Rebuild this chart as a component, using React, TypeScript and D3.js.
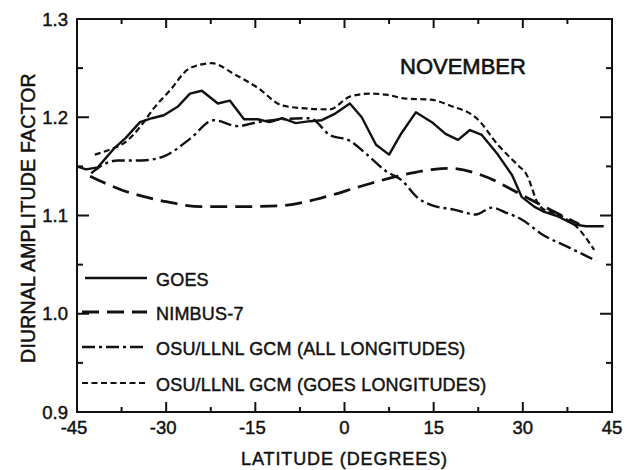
import React from "react";
import * as d3 from "d3";

const X_TICKS = [-45, -30, -15, 0, 15, 30, 45];
const X_MINOR = [-37.5, -22.5, -7.5, 7.5, 22.5, 37.5];
const Y_TICKS = [0.9, 1.0, 1.1, 1.2, 1.3];
const Y_MINOR = [0.95, 1.05, 1.15, 1.25];

const goesLat = [-45, -43.5, -41.5, -38.8, -36.8, -34.4, -32.4, -30.4, -28, -26, -24, -21.3, -19.3, -16.9, -14.6, -12.6, -10.5, -8.2, -5.8, -3.8, -1.5, 0.9, 2.9, 5.3, 7.5, 9.6, 12, 14.7, 17, 19.1, 21.1, 23.1, 25.8, 28.2, 29.8, 31.9, 33.5, 35.9, 38.6, 40.6, 43.6];
const goesVal = [1.150, 1.147, 1.149, 1.168, 1.179, 1.195, 1.199, 1.202, 1.211, 1.224, 1.227, 1.214, 1.217, 1.198, 1.198, 1.195, 1.199, 1.194, 1.196, 1.197, 1.204, 1.214, 1.2, 1.172, 1.162, 1.184, 1.205, 1.195, 1.183, 1.177, 1.187, 1.182, 1.162, 1.141, 1.119, 1.109, 1.104, 1.099, 1.091, 1.089, 1.089];

const nimbusLat = [-42.8, -37.5, -30.7, -24, -17.3, -10.5, -3.8, 2.9, 9.6, 15, 17.7, 23.1, 29.8, 35.2, 39.5];
const nimbusVal = [1.140, 1.126, 1.115, 1.109, 1.109, 1.110, 1.118, 1.130, 1.141, 1.147, 1.148, 1.141, 1.121, 1.104, 1.091];

const allLonLat = [-42.6, -40.8, -38.1, -34.1, -30.1, -26, -22, -18, -14.6, -10.5, -5.8, -2.5, 0.9, 3.6, 7, 9.6, 12.3, 14.4, 18.4, 22.1, 24.8, 27.1, 29.8, 33.2, 37.9, 42.3];
const allLonVal = [1.143, 1.151, 1.156, 1.156, 1.161, 1.178, 1.197, 1.191, 1.195, 1.198, 1.199, 1.182, 1.176, 1.163, 1.145, 1.136, 1.118, 1.111, 1.106, 1.101, 1.108, 1.103, 1.096, 1.081, 1.067, 1.054];

const goesLonLat = [-42, -39.5, -36.8, -34.4, -32.1, -29.4, -26, -22.3, -18.6, -14.6, -10.5, -6.5, -2.5, 0.9, 4.3, 7, 10.3, 14.4, 17.7, 22.4, 25.8, 29.2, 30.5, 32.9, 36.6, 39.3, 42];
const goesLonVal = [1.162, 1.167, 1.175, 1.19, 1.209, 1.227, 1.25, 1.255, 1.244, 1.23, 1.212, 1.209, 1.208, 1.221, 1.224, 1.223, 1.219, 1.218, 1.212, 1.198, 1.172, 1.151, 1.143, 1.109, 1.099, 1.087, 1.065];

const LEGEND_LABELS = ["GOES", "NIMBUS-7", "OSU/LLNL GCM (ALL LONGITUDES)", "OSU/LLNL GCM (GOES LONGITUDES)"];
const DASHES = ["none", "17,8", "13,4,3,4", "6,3.5"];
const WIDTHS = [2.4, 2.8, 2.4, 2.2];

const FONT = "'Liberation Sans', Arial, Helvetica, sans-serif";
const INK = "#111";

export default function App() {
  const W = 629, H = 470;
  const left = 77, right = 612, top = 19, bottom = 412;
  const x = d3.scaleLinear().domain([-45, 45]).range([left, right]);
  const y = d3.scaleLinear().domain([0.9, 1.3]).range([bottom, top]);

  const mk = (lat: number[], val: number[], curve: any) =>
    d3.line<number>()
      .x((d) => x(d))
      .y((_, i) => y(val[i]))
      .curve(curve)(lat) as string;

  const series = [
    mk(goesLat, goesVal, d3.curveLinear),
    mk(nimbusLat, nimbusVal, d3.curveMonotoneX),
    mk(allLonLat, allLonVal, d3.curveMonotoneX),
    mk(goesLonLat, goesLonVal, d3.curveMonotoneX),
  ];

  const legendY = [278, 312, 347, 383];
  const txt = { fill: INK, stroke: INK, strokeWidth: 0.45 };

  return (
    <svg width={W} height={H} style={{ position: "absolute", left: 0, top: 0, background: "#fff" }} fontFamily={FONT}>
      <rect x={0} y={0} width={W} height={H} fill="#fff" />
      <rect x={left} y={top} width={right - left} height={bottom - top} fill="none" stroke={INK} strokeWidth={2} />
      {X_TICKS.map((t) => (
        <g key={"xt" + t}>
          <line x1={x(t)} x2={x(t)} y1={bottom} y2={bottom - 10} stroke={INK} strokeWidth={2} />
          <line x1={x(t)} x2={x(t)} y1={top} y2={top + 9} stroke={INK} strokeWidth={2} />
          <text x={x(t) - (t < 0 ? 3 : 0)} y={434} textAnchor="middle" fontSize={18.5} {...txt}>
            {t < 0 ? "-" + Math.abs(t) : String(t)}
          </text>
        </g>
      ))}
      {X_MINOR.map((t) => (
        <g key={"xm" + t}>
          <line x1={x(t)} x2={x(t)} y1={bottom} y2={bottom - 5} stroke={INK} strokeWidth={2} />
          <line x1={x(t)} x2={x(t)} y1={top} y2={top + 5} stroke={INK} strokeWidth={2} />
        </g>
      ))}
      {Y_TICKS.map((t) => (
        <g key={"yt" + t}>
          <line x1={left} x2={left + 12} y1={y(t)} y2={y(t)} stroke={INK} strokeWidth={2} />
          <line x1={right} x2={right - 12} y1={y(t)} y2={y(t)} stroke={INK} strokeWidth={2} />
          <text x={68} y={y(t) + 6.5} textAnchor="end" fontSize={18.5} {...txt}>
            {t.toFixed(1)}
          </text>
        </g>
      ))}
      {Y_MINOR.map((t) => (
        <g key={"ym" + t}>
          <line x1={left} x2={left + 6} y1={y(t)} y2={y(t)} stroke={INK} strokeWidth={2} />
          <line x1={right} x2={right - 6} y1={y(t)} y2={y(t)} stroke={INK} strokeWidth={2} />
        </g>
      ))}
      <text x={(left + right) / 2} y={465} textAnchor="middle" fontSize={18} letterSpacing={0.9} {...txt}>
        LATITUDE (DEGREES)
      </text>
      <text transform={`translate(35, ${(74 + 362) / 2}) rotate(-90)`} textAnchor="middle" fontSize={19.5} letterSpacing={0.2} {...txt}>
        DIURNAL AMPLITUDE FACTOR
      </text>
      <text x={400} y={74} fontSize={22} {...txt} strokeWidth={0.6}>
        NOVEMBER
      </text>
      {series.map((d, i) => (
        <path key={"s" + i} d={d} fill="none" stroke={INK} strokeWidth={WIDTHS[i]} strokeDasharray={DASHES[i]} strokeLinejoin="round" />
      ))}
      {LEGEND_LABELS.map((lab, i) => (
        <g key={"lg" + i}>
          <line x1={i === 0 ? 85 : 82} x2={147} y1={legendY[i]} y2={legendY[i]} stroke={INK} strokeWidth={WIDTHS[i]} strokeDasharray={DASHES[i]} />
          <text x={156} y={legendY[i] + 8} fontSize={18} letterSpacing={0.2} {...txt}>
            {lab}
          </text>
        </g>
      ))}
    </svg>
  );
}
